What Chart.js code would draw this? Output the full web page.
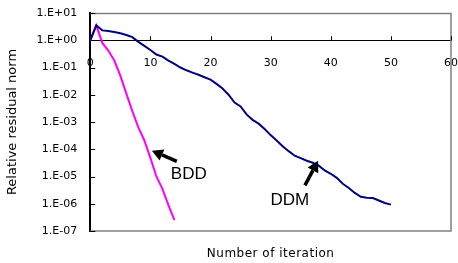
<!DOCTYPE html>
<html>
<head>
<meta charset="utf-8">
<script src="https://cdn.jsdelivr.net/npm/chart.js@4/dist/chart.umd.min.js"></script>
<style>
  html, body { margin: 0; padding: 0; background: #fff; }
  #wrap { width: 458px; height: 263px; }
</style>
</head>
<body>
<div id="wrap"><canvas id="chart"></canvas></div>
<script>
const ddmIter = [0, 1, 2, 3, 4, 5, 6, 7, 8, 9, 10, 11, 12, 13, 14, 15, 16, 17, 18, 19, 20,
  21, 22, 23, 24, 25, 26, 27, 28, 29, 30, 31, 32, 33, 34, 35, 36, 37, 38, 39, 40,
  41, 42, 43, 44, 45, 46, 47, 48, 49, 50];
const ddmResidual = [1, 3.5, 2.3, 2.2, 2.0, 1.8, 1.55, 1.3, 0.87, 0.62, 0.44,
  0.30, 0.25, 0.18, 0.135, 0.10, 0.079, 0.065, 0.054, 0.044, 0.036,
  0.025, 0.017, 0.010, 0.0052, 0.0037, 0.0019, 0.0012, 8.7e-4, 5.5e-4, 3.3e-4,
  2.1e-4, 1.3e-4, 8.5e-5, 5.8e-5, 4.7e-5, 3.8e-5, 3.2e-5, 2.5e-5, 1.66e-5, 1.26e-5,
  8.9e-6, 5.4e-6, 3.8e-6, 2.5e-6, 1.8e-6, 1.66e-6, 1.62e-6, 1.32e-6, 1.07e-6, 9.3e-7];

const bddIter = [0, 1, 2, 3, 4, 5, 6, 7, 8, 9, 10, 11, 12, 13, 14];
const bddResidual = [1, 3.5, 0.8, 0.42, 0.18, 0.05, 0.011, 2.5e-3, 6.3e-4, 2.1e-4,
  4.8e-5, 1.0e-5, 3.5e-6, 8.9e-7, 2.5e-7];

const xTicks = [0, 10, 20, 30, 40, 50, 60];
const yTicks = [1e1, 1e0, 1e-1, 1e-2, 1e-3, 1e-4, 1e-5, 1e-6, 1e-7];

const FONT = "DejaVu Sans";
const X_TITLE = "Number of iteration";

function fmtExp(v) {
  const e = Math.round(Math.log10(v));
  const sign = e < 0 ? "-" : "+";
  return "1.E" + sign + String(Math.abs(e)).padStart(2, "0");
}

// arrow annotations in data coordinates
const notes = [
  { text: "BDD", tip: [10.25, 8.9e-5], tail: [14.4, 3.6e-5], label: [13.4, 1.17e-5], align: "left" },
  { text: "DDM", tip: [37.9, 3.8e-5], tail: [35.7, 4.7e-6], label: [33.2, 1.3e-6], align: "center" },
];

const framePlugin = {
  id: "frame",
  beforeDatasetsDraw(chart) {
    const { ctx, chartArea: a } = chart;
    const xs = chart.scales.x, ys = chart.scales.y;
    ctx.save();
    ctx.strokeStyle = "#808080";
    ctx.lineWidth = 1.5;
    ctx.beginPath();
    ctx.moveTo(a.left, a.top + 0.5);
    ctx.lineTo(a.right, a.top + 0.5);
    ctx.lineTo(a.right, a.bottom);
    ctx.lineTo(a.left, a.bottom);
    ctx.stroke();

    // inward tick marks
    ctx.strokeStyle = "#000";
    ctx.lineWidth = 1;
    const axisY = ys.getPixelForValue(1);
    ctx.beginPath();
    xTicks.forEach((v) => {
      const px = Math.round(xs.getPixelForValue(v)) + 0.5;
      ctx.moveTo(px, axisY);
      ctx.lineTo(px, axisY - 4);
    });
    yTicks.forEach((v) => {
      const py = Math.round(ys.getPixelForValue(v)) + 0.5;
      ctx.moveTo(a.left, py);
      ctx.lineTo(a.left + 5, py);
    });
    ctx.stroke();

    // x axis title, centred under the plot area
    ctx.fillStyle = "#000";
    ctx.font = "12px " + FONT;
    ctx.letterSpacing = "0.5px";
    ctx.textAlign = "center";
    ctx.textBaseline = "middle";
    ctx.fillText(X_TITLE, (a.left + a.right) / 2, a.bottom + 23);
    ctx.restore();
  },
  afterDatasetsDraw(chart) {
    const { ctx } = chart;
    const xs = chart.scales.x, ys = chart.scales.y;
    ctx.save();
    ctx.fillStyle = "#000";
    ctx.strokeStyle = "#000";
    notes.forEach((n) => {
      const tx = xs.getPixelForValue(n.tip[0]), ty = ys.getPixelForValue(n.tip[1]);
      const sx = xs.getPixelForValue(n.tail[0]), sy = ys.getPixelForValue(n.tail[1]);
      const ang = Math.atan2(ty - sy, tx - sx);
      const headLen = 11, headW = 6;
      const bx = tx - headLen * Math.cos(ang), by = ty - headLen * Math.sin(ang);
      ctx.lineWidth = 3.5;
      ctx.beginPath();
      ctx.moveTo(sx, sy);
      ctx.lineTo(bx, by);
      ctx.stroke();
      ctx.beginPath();
      ctx.moveTo(tx, ty);
      ctx.lineTo(bx + headW * Math.sin(ang), by - headW * Math.cos(ang));
      ctx.lineTo(bx - headW * Math.sin(ang), by + headW * Math.cos(ang));
      ctx.closePath();
      ctx.fill();
      ctx.font = "17px 'Liberation Sans'";
      ctx.textAlign = n.align;
      ctx.textBaseline = "middle";
      ctx.fillText(n.text, xs.getPixelForValue(n.label[0]), ys.getPixelForValue(n.label[1]));
    });
    ctx.restore();
  },
};

new Chart(document.getElementById("chart"), {
  type: "line",
  data: {
    datasets: [
      {
        label: "DDM",
        data: ddmIter.map((x, i) => ({ x: x, y: ddmResidual[i] })),
        borderColor: "#000080",
        borderWidth: 2,
        pointRadius: 0,
        tension: 0,
      },
      {
        label: "BDD",
        data: bddIter.map((x, i) => ({ x: x, y: bddResidual[i] })),
        borderColor: "#FF00FF",
        borderWidth: 2,
        pointRadius: 0,
        tension: 0,
      },
    ],
  },
  options: {
    responsive: true,
    maintainAspectRatio: false,
    animation: false,
    layout: { padding: { top: 13, right: 7, left: 5, bottom: 32 } },
    plugins: {
      legend: { display: false },
      tooltip: { enabled: false },
    },
    scales: {
      x: {
        type: "linear",
        min: 0,
        max: 60,
        position: { y: 1 },
        afterBuildTicks: (axis) => {
          axis.ticks = xTicks.map((v) => ({ value: v }));
        },
        grid: { drawOnChartArea: false, drawTicks: true, tickLength: 16, tickColor: "rgba(0,0,0,0)" },
        border: { color: "#000", width: 1 },
        ticks: { color: "#000", font: { family: FONT, size: 11 }, padding: 0, maxRotation: 0 },
      },
      y: {
        type: "logarithmic",
        min: 1e-7,
        max: 1e1,
        afterBuildTicks: (axis) => {
          axis.ticks = yTicks.map((v) => ({ value: v }));
        },
        grid: { drawOnChartArea: false, drawTicks: true, tickLength: 9, tickColor: "rgba(0,0,0,0)" },
        border: { color: "#000", width: 2 },
        ticks: {
          color: "#000",
          font: { family: FONT, size: 11 },
          padding: 4,
          callback: (v) => fmtExp(v),
        },
        title: {
          display: true,
          text: "Relative residual norm",
          color: "#000",
          font: { family: FONT, size: 13 },
          padding: { top: 0, bottom: 12 },
        },
      },
    },
  },
  plugins: [framePlugin],
});
</script>
</body>
</html>
